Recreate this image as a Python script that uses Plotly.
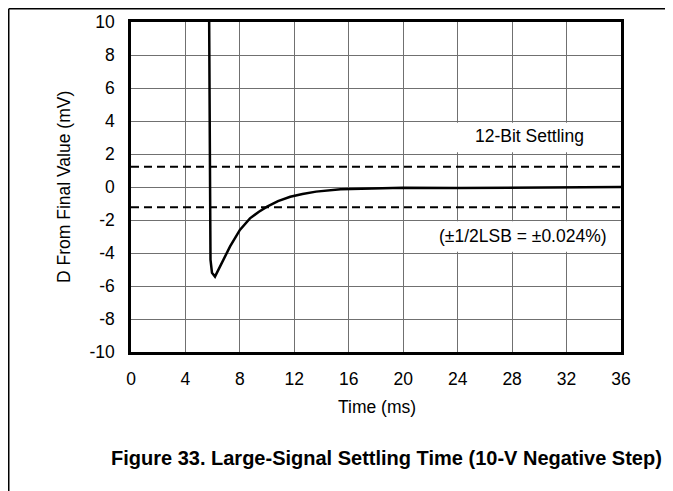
import plotly.graph_objects as go

# Data (time in ms, deviation from final value in mV)
time_ms = [5.73, 5.75, 5.80, 5.81, 5.84, 5.95, 6.17, 6.50, 6.77, 7.28, 8.0, 8.74,
           9.4, 10.0, 10.8, 11.7, 12.6, 13.6, 15.4, 18.0, 20.0, 24.0, 28.0, 32.0, 36.0]
delta_mv = [12.0, 5.7, 5.5, 0.0, -4.4, -5.2, -5.43, -4.9, -4.4, -3.6, -2.6, -1.9,
            -1.5, -1.19, -0.85, -0.59, -0.42, -0.28, -0.14, -0.08, -0.05, -0.06, -0.05, -0.03, 0.0]
lsb_half = 1.22
x_ticks = [0, 4, 8, 12, 16, 20, 24, 28, 32, 36]
y_ticks = [-10, -8, -6, -4, -2, 0, 2, 4, 6, 8, 10]

FONT = "Liberation Sans, Arial, sans-serif"
FS = 17.5

fig = go.Figure()
fig.add_trace(go.Scatter(x=[0, 36], y=[lsb_half, lsb_half], mode="lines",
                         line=dict(color="black", width=2, dash="8px,5px"),
                         hoverinfo="skip"))
fig.add_trace(go.Scatter(x=[0, 36], y=[-lsb_half, -lsb_half], mode="lines",
                         line=dict(color="black", width=2, dash="8px,5px"),
                         hoverinfo="skip"))
fig.add_trace(go.Scatter(x=time_ms, y=delta_mv, mode="lines",
                         line=dict(color="black", width=2.5), hoverinfo="skip"))

# page has 8px body margin: figure is offset by (8, 8)
W, H = 665, 483
L, R, T, B = 123, 52, 14, 139
pw, ph = W - L - R, H - T - B

# helpers converting page pixel positions into paper coordinates
def px(x):
    return (x - 131) / pw

def py(y):
    return (352 - y) / ph

fig.update_layout(
    width=W, height=H,
    margin=dict(l=L, r=R, t=T, b=B, pad=0, autoexpand=False),
    paper_bgcolor="white", plot_bgcolor="white",
    showlegend=False,
    font=dict(family=FONT, size=FS, color="black"),
    xaxis=dict(range=[0, 36], tickvals=x_ticks, ticktext=[str(v) for v in x_ticks],
               showgrid=True, gridcolor="#707070", gridwidth=1, automargin=False,
               zeroline=False, showline=True, linecolor="black", linewidth=2.5, mirror=True,
               ticks="", ticklabelstandoff=9),
    yaxis=dict(range=[-10, 10], tickvals=y_ticks, ticktext=[str(v) for v in y_ticks],
               showgrid=True, gridcolor="#707070", gridwidth=1, automargin=False,
               zeroline=False, showline=True, linecolor="black", linewidth=2.5, mirror=True,
               ticks="", ticklabelstandoff=10),
    annotations=[
        dict(text="12-Bit Settling", xref="x", yref="y", x=29.3, y=3.1,
             showarrow=False, font=dict(size=FS)),
        dict(text="(±1/2LSB = ±0.024%)", xref="x", yref="y", x=28.8, y=-2.95,
             showarrow=False, font=dict(size=FS)),
        dict(text="Time (ms)", xref="paper", yref="paper", x=px(377), y=py(407),
             xanchor="center", yanchor="middle", showarrow=False, font=dict(size=FS)),
        dict(text="D From Final Value (mV)", xref="paper", yref="paper", x=px(64), y=py(187),
             xanchor="center", yanchor="middle", showarrow=False, textangle=-90,
             font=dict(size=FS)),
        dict(text="<b>Figure 33. Large-Signal Settling Time (10-V Negative Step)</b>",
             xref="paper", yref="paper", x=px(386), y=py(458),
             xanchor="center", yanchor="middle", showarrow=False,
             font=dict(size=20)),
    ],
    shapes=[
        dict(type="rect", xref="x", yref="y", x0=23.8, x1=35.8, y0=2.1, y1=3.9,
             layer="between", fillcolor="white", line=dict(width=0)),
        dict(type="rect", xref="x", yref="y", x0=22.0, x1=35.8, y0=-3.92, y1=-2.08,
             layer="between", fillcolor="white", line=dict(width=0)),
        dict(type="line", xref="paper", yref="paper",
             x0=px(8.75), x1=px(680), y0=py(8.75), y1=py(8.75),
             line=dict(color="black", width=1.5)),
        dict(type="line", xref="paper", yref="paper",
             x0=px(8.75), x1=px(8.75), y0=py(8.75), y1=py(500),
             line=dict(color="black", width=1.5)),
    ],
)

fig.write_html("out.html")
